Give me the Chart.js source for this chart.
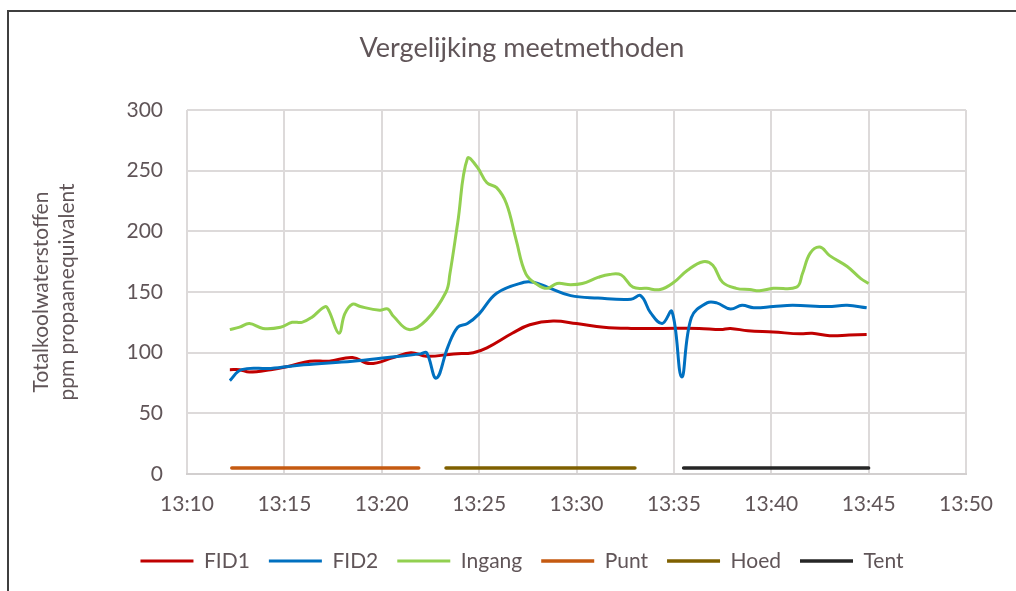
<!DOCTYPE html>
<html lang="nl">
<head>
  <meta charset="UTF-8">
  <title>Vergelijking meetmethoden</title>
  <script src="https://cdn.jsdelivr.net/npm/chart.js"></script>
  <style>
    body {
      margin: 0;
      background: #fff;
      overflow: hidden;
    }
    #kader {
      position: absolute;
      left: 7px;
      top: 10px;
      width: 1020px;
      height: 600px;
      border-left: 2px solid #3f3f3f;
      border-top: 2px solid #3f3f3f;
    }
    canvas { display: block; }
  </style>
</head>
<body>
  <div id="kader"><canvas id="grafiek" width="1007" height="600"></canvas></div>

  <script>
    // tijd = minuten na 13:00
    const fid1Tijd = [12.2, 12.7, 13.2, 14.3, 15.3, 16.3, 17.3, 18.5, 19.4, 20.6, 21.5, 22.3, 23.7, 24.7, 25.4, 26.7, 27.6, 28.8, 30.0, 31.4, 32.8, 34.4, 36.3, 37.4, 37.9, 38.8, 40.1, 41.5, 42.1, 43.0, 44.0, 44.9];
    const fid1Waarde = [86, 86, 84, 86, 89, 93, 93, 96, 91, 96, 100, 97, 99, 100, 104, 116, 123, 126, 124, 121, 120, 120, 120, 119, 120, 118, 117, 115.5, 116, 114, 114.5, 115];

    const fid2Tijd = [12.2, 12.8, 14.3, 16.0, 18.5, 20.3, 22.0, 22.3, 22.8, 23.4, 23.9, 24.4, 25.0, 25.9, 27.3, 27.8, 28.5, 29.7, 31.1, 32.8, 33.3, 33.8, 34.4, 34.9, 35.4, 35.9, 36.7, 37.2, 37.9, 38.5, 39.1, 40.1, 41.1, 42.9, 43.9, 44.9];
    const fid2Waarde = [77, 86, 87, 90, 93, 96, 99, 100, 79, 105, 121, 124, 132, 149, 158, 158, 154, 147, 145, 144, 147, 133, 124, 134, 80, 129, 141, 141, 136, 139, 137, 138, 139, 138, 139, 137];

    const ingangTijd = [12.2, 12.7, 13.2, 13.9, 14.8, 15.4, 15.9, 16.4, 17.1, 17.3, 17.8, 18.1, 18.5, 18.9, 19.9, 20.3, 20.6, 21.4, 22.3, 23.3, 23.5, 23.9, 24.4, 24.9, 25.4, 25.9, 26.4, 26.9, 27.4, 28.0, 28.5, 29.0, 29.7, 30.3, 31.1, 31.7, 32.3, 32.9, 33.6, 34.3, 35.0, 35.7, 36.5, 37.0, 37.5, 38.2, 38.9, 39.4, 40.1, 41.3, 41.6, 42.0, 42.5, 43.0, 43.9, 44.6, 45.0];
    const ingangWaarde = [119, 121, 124, 120, 121, 125, 125, 129, 138, 134, 116, 132, 140, 138, 135, 136, 130, 119, 127, 150, 165, 207, 260, 253, 240, 236, 223, 193, 165, 156, 153, 157, 156, 157, 162, 164.5, 164, 154, 153, 152, 158, 168, 175, 172, 158, 153, 152, 151, 153, 154, 165, 182, 187, 180, 171, 161, 157];

    const puntTijd = [12.3, 21.9];
    const hoedTijd = [23.3, 33.0];
    const tentTijd = [35.5, 45.0];
    const periodeWaarde = [5, 5];

    const xTicks = [10, 15, 20, 25, 30, 35, 40, 45, 50];
    const yTicks = [0, 50, 100, 150, 200, 250, 300];
    const asTitel = ['Totalkoolwaterstoffen', 'ppm propaanequivalent'];

    const tekstKleur = '#605558';
    const letter = 'Lato, sans-serif';

    const punten = (tijd, waarde) => tijd.map((t, i) => ({ x: t, y: waarde[i] }));

    const reeks = (label, tijd, waarde, kleur, volgorde, extra) => Object.assign({
      label,
      data: punten(tijd, waarde),
      borderColor: kleur,
      backgroundColor: kleur,
      borderWidth: 3,
      tension: 0.4,
      pointRadius: 0,
      fill: false,
      order: volgorde
    }, extra || {});

    const balk = { borderWidth: 3.5, tension: 0, borderCapStyle: 'round' };

    new Chart(document.getElementById('grafiek').getContext('2d'), {
      type: 'line',
      data: {
        datasets: [
          reeks('FID1', fid1Tijd, fid1Waarde, '#c00000', 3),
          reeks('FID2', fid2Tijd, fid2Waarde, '#0070c0', 2),
          reeks('Ingang', ingangTijd, ingangWaarde, '#92d050', 1),
          reeks('Punt', puntTijd, periodeWaarde, '#c55a11', 0, balk),
          reeks('Hoed', hoedTijd, periodeWaarde, '#7f6000', 0, balk),
          reeks('Tent', tentTijd, periodeWaarde, '#262626', 0, balk)
        ]
      },
      options: {
        responsive: false,
        animation: false,
        devicePixelRatio: 1,
        layout: { padding: { left: 19, right: 0, top: 0, bottom: 30.5 } },
        plugins: {
          title: {
            display: true,
            text: 'Vergelijking meetmethoden',
            color: tekstKleur,
            font: { family: letter, size: 27, weight: 'normal', lineHeight: 1.2 },
            padding: { top: 19.8, bottom: 45.8 }
          },
          legend: {
            position: 'bottom',
            labels: {
              usePointStyle: true,
              pointStyle: 'line',
              pointStyleWidth: 53,
              color: tekstKleur,
              font: { family: letter, size: 21 },
              padding: 19,
              sort: (a, b) => a.datasetIndex - b.datasetIndex
            }
          },
          tooltip: { enabled: false }
        },
        scales: {
          x: {
            type: 'linear',
            min: xTicks[0],
            max: xTicks[xTicks.length - 1],
            afterBuildTicks: s => { s.ticks = xTicks.map(v => ({ value: v })); },
            ticks: {
              callback: v => '13:' + v,
              color: tekstKleur,
              font: { family: letter, size: 21 },
              padding: 17.4,
              maxRotation: 0
            },
            grid: { color: '#dddada', lineWidth: 2, drawTicks: false },
            border: { color: '#d2cfcf', width: 2 },
            afterFit: s => { s.height = 57.5; }
          },
          y: {
            min: yTicks[0],
            max: yTicks[yTicks.length - 1],
            afterBuildTicks: s => { s.ticks = yTicks.map(v => ({ value: v })); },
            ticks: {
              color: tekstKleur,
              font: { family: letter, size: 21 },
              padding: 24
            },
            grid: { color: '#dddada', lineWidth: 2, drawTicks: false },
            border: { display: false },
            title: {
              display: true,
              text: asTitel,
              color: tekstKleur,
              font: { family: letter, size: 21, lineHeight: 26 / 21 },
              padding: { top: 0, bottom: 0 }
            },
            afterFit: s => { s.width = 159; }
          },
          rechts: {
            position: 'right',
            grid: { display: false },
            ticks: { display: false },
            border: { display: false },
            afterFit: s => { s.width = 50; }
          }
        }
      }
    });
  </script>
</body>
</html>
